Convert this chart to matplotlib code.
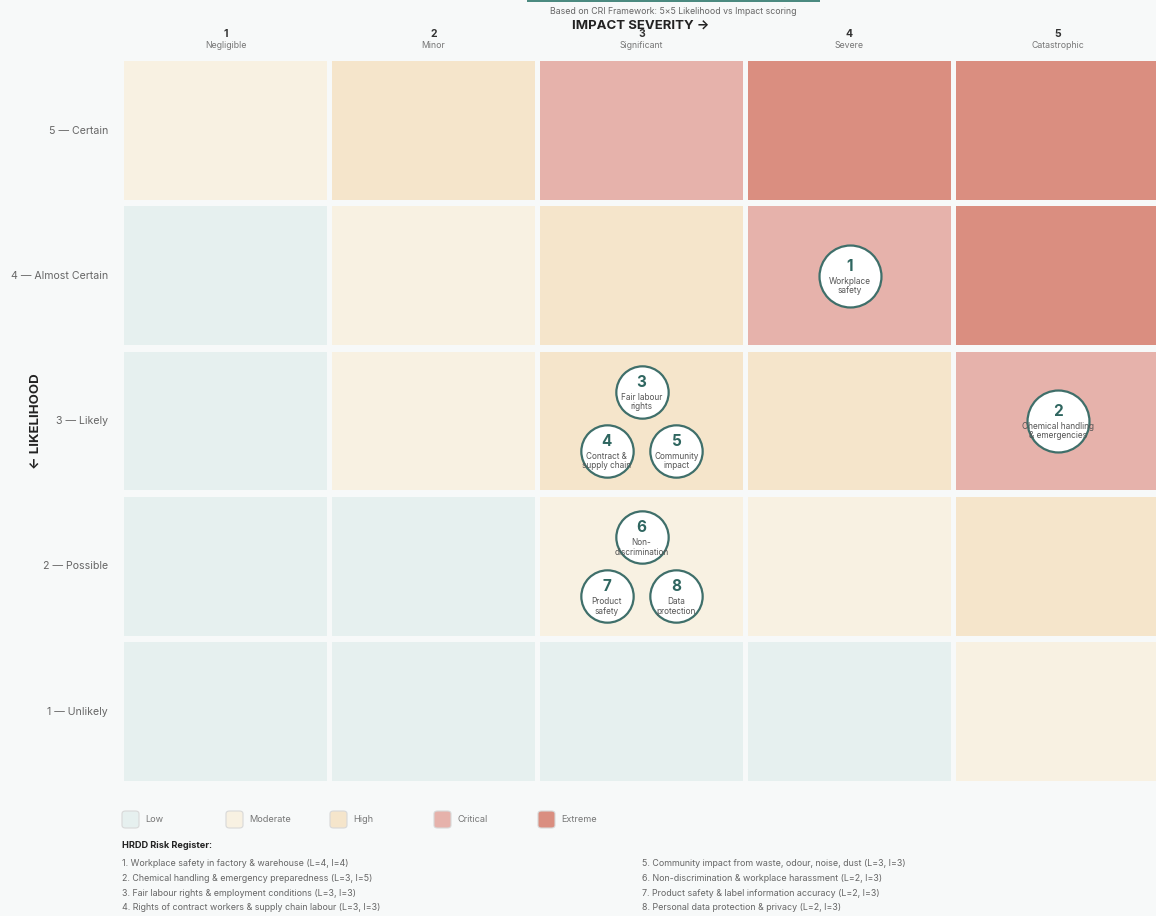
import matplotlib
matplotlib.use("Agg")
import matplotlib.pyplot as plt
from matplotlib.patches import Rectangle, FancyBboxPatch
from collections import defaultdict

plt.rcParams['font.family'] = ['Inter', 'DejaVu Sans']

# ---------------- data ----------------
impact_levels = [1, 2, 3, 4, 5]
impact_names = ["Negligible", "Minor", "Significant", "Severe", "Catastrophic"]
likelihood_levels = [5, 4, 3, 2, 1]
likelihood_names = ["Certain", "Almost Certain", "Likely", "Possible", "Unlikely"]

# risk level per cell: rows = likelihood 5..1, cols = impact 1..5
risk_grid = [
    ["Moderate", "High", "Critical", "Extreme", "Extreme"],
    ["Low", "Moderate", "High", "Critical", "Extreme"],
    ["Low", "Moderate", "High", "High", "Critical"],
    ["Low", "Low", "Moderate", "Moderate", "High"],
    ["Low", "Low", "Low", "Low", "Moderate"],
]
risk_names = ["Low", "Moderate", "High", "Critical", "Extreme"]
risk_colors = ["#e6f0ef", "#f8f1e2", "#f5e5cb", "#e6b2ab", "#da8e80"]

risk_ids = [1, 2, 3, 4, 5, 6, 7, 8]
risk_short = ["Workplace\nsafety", "Chemical handling\n& emergencies", "Fair labour\nrights",
              "Contract &\nsupply chain", "Community\nimpact", "Non-\ndiscrimination",
              "Product\nsafety", "Data\nprotection"]
risk_L = [4, 3, 3, 3, 3, 2, 2, 2]
risk_I = [4, 5, 3, 3, 3, 3, 3, 3]
risk_full = [
    "Workplace safety in factory & warehouse",
    "Chemical handling & emergency preparedness",
    "Fair labour rights & employment conditions",
    "Rights of contract workers & supply chain labour",
    "Community impact from waste, odour, noise, dust",
    "Non-discrimination & workplace harassment",
    "Product safety & label information accuracy",
    "Personal data protection & privacy",
]

# ---------------- figure ----------------
W, H = 1156, 916
fig = plt.figure(figsize=(W / 100, H / 100), dpi=100)
fig.patch.set_facecolor("#f7f9f9")

def px(x, y):
    return x / W, 1 - y / H

ax_left, ax_top, ax_right, ax_bot = 121.5, 57.9, 1161.5, 784.1
ax = fig.add_axes([ax_left / W, 1 - ax_bot / H, (ax_right - ax_left) / W, (ax_bot - ax_top) / H])
ax.set_xlim(0.5, 5.5)
ax.set_ylim(0.5, 5.5)
ax.axis("off")
ax.set_facecolor("none")

cw, ch = 0.976, 0.957
color_of = dict(zip(risk_names, risk_colors))
for r, L in enumerate(likelihood_levels):
    for c, I in enumerate(impact_levels):
        ax.add_patch(Rectangle((I - cw / 2, L - ch / 2), cw, ch,
                               facecolor=color_of[risk_grid[r][c]], edgecolor="none", zorder=1))

groups = defaultdict(list)
for k in range(len(risk_ids)):
    groups[(risk_L[k], risk_I[k])].append(k)

for (L, I), ks in groups.items():
    n = len(ks)
    if n == 1:
        offs = [(0, 0)]
        size = 1990
        nfs, lfs = 11, 6.0
    else:
        offs = [(0, 0.20), (-0.168, -0.207), (0.168, -0.207)]
        size = 1420
        nfs, lfs = 11, 5.9
    for k, (dx, dy) in zip(ks, offs):
        x, y = I + dx, L + dy
        ax.scatter([x], [y], s=size, facecolor="white", edgecolor="#3f6f6a", linewidth=1.6, zorder=3)
        ax.text(x, y + 0.065, str(risk_ids[k]), ha="center", va="center", fontsize=nfs,
                fontweight="bold", color="#2f6660", zorder=4)
        ax.text(x, y - 0.07, risk_short[k], ha="center", va="center", fontsize=lfs,
                color="#555555", linespacing=1.05, zorder=4)

# column headers
for I, name in zip(impact_levels, impact_names):
    cx = ax_left + (I - 0.5) * 208
    fig.text(*px(cx, 34), str(I), ha="center", va="center", fontsize=7.5, fontweight="bold", color="#333333")
    fig.text(*px(cx, 45), name, ha="center", va="center", fontsize=6.3, color="#777777")

# row labels
for L, name in zip(likelihood_levels, likelihood_names):
    cy = ax_top + (5.5 - L) * 145.25
    fig.text(*px(108, cy), f"{L} — {name}", ha="right", va="center", fontsize=7.6, color="#666666")

# axis titles
fig.text(*px(641, 26), "IMPACT SEVERITY →", ha="center", va="center", fontsize=9.5,
         fontweight="bold", color="#222222")
fig.text(*px(673, 12), "Based on CRI Framework: 5×5 Likelihood vs Impact scoring",
         ha="center", va="center", fontsize=6.3, color="#666666")
fig.text(*px(36, 421), "← LIKELIHOOD", ha="center", va="center", rotation=90, fontsize=9.5,
         fontweight="bold", color="#222222")

# top accent bar
fig.patches.append(Rectangle(px(527, 2), 293 / W, 2 / H, transform=fig.transFigure,
                             facecolor="#4b8a80", edgecolor="none"))

# legend
for k, (nm, col) in enumerate(zip(risk_names, risk_colors)):
    x0 = 122 + k * 104
    fig.patches.append(FancyBboxPatch(px(x0, 828), 17 / W, 17 / H, boxstyle="round,pad=0,rounding_size=0.003",
                                      transform=fig.transFigure, facecolor=col, edgecolor="#d8d8d8",
                                      linewidth=0.8))
    fig.text(*px(x0 + 23, 820), nm, ha="left", va="center", fontsize=6.6, color="#777777")

# register
fig.text(*px(122, 845), "HRDD Risk Register:", ha="left", va="center", fontsize=6.6,
         fontweight="bold", color="#222222")
for k in range(len(risk_ids)):
    col = k // 4
    row = k % 4
    x0 = 122 if col == 0 else 642
    y0 = 864 + row * 14.5
    fig.text(*px(x0, y0), f"{risk_ids[k]}. {risk_full[k]} (L={risk_L[k]}, I={risk_I[k]})",
             ha="left", va="center", fontsize=6.4, color="#666666")

fig.savefig("out.png", dpi=100, facecolor=fig.get_facecolor())
